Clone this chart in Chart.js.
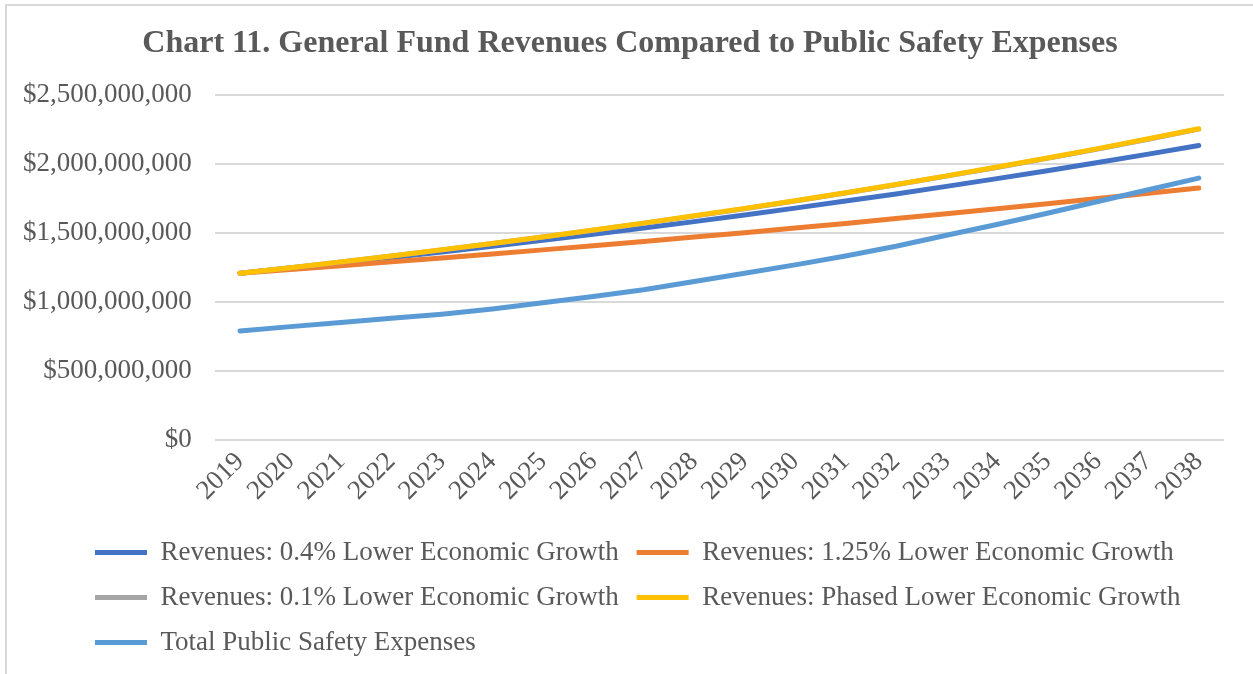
<!DOCTYPE html>
<html>
<head>
<meta charset="utf-8">
<title>Chart 11</title>
<script src="https://cdn.jsdelivr.net/npm/chart.js@4.4.1/dist/chart.umd.min.js"></script>
<style>
  body { margin: 0; background: #fff; overflow: hidden; }
  #wrap { position: absolute; left: 0; top: 0; width: 1253px; height: 674px; }
  #frame { position: absolute; left: 5px; top: 4px; width: 1270px; height: 690px; border: 2px solid #d9d9d9; pointer-events: none; }
</style>
</head>
<body>
<div id="wrap"><canvas id="myChart" width="1253" height="674"></canvas></div>
<div id="frame"></div>
<script>
// values in millions of dollars
const years = ['2019','2020','2021','2022','2023','2024','2025','2026','2027','2028',
               '2029','2030','2031','2032','2033','2034','2035','2036','2037','2038'];

const rev04 = [1210, 1247, 1285, 1324, 1364, 1405, 1448, 1492, 1537, 1584,
               1632, 1682, 1733, 1785, 1840, 1896, 1953, 2013, 2074, 2137];
const rev125 = [1210, 1237, 1264, 1292, 1320, 1349, 1379, 1409, 1440, 1472,
                1504, 1537, 1571, 1606, 1641, 1677, 1714, 1752, 1790, 1828];
const rev01 = [1210, 1250, 1291, 1334, 1379, 1425, 1472, 1521, 1572, 1624,
               1678, 1734, 1792, 1852, 1914, 1977, 2043, 2111, 2182, 2255];
const revPhased = [1210, 1250, 1292, 1335, 1380, 1426, 1473, 1523, 1573, 1626,
                   1680, 1736, 1794, 1854, 1916, 1980, 2046, 2114, 2185, 2258];
const safetyExp = [791, 822, 852, 882, 912, 950, 995, 1040, 1090, 1150,
                   1210, 1270, 1335, 1405, 1485, 1563, 1645, 1730, 1815, 1900];

const seriesNames = [
    'Revenues: 0.4% Lower Economic Growth',
    'Revenues: 1.25% Lower Economic Growth',
    'Revenues: 0.1% Lower Economic Growth',
    'Revenues: Phased Lower Economic Growth',
    'Total Public Safety Expenses'
];
const seriesColors = ['#4472C4', '#ED7D31', '#A5A5A5', '#FFC000', '#5B9BD5'];
const seriesData = [rev04, rev125, rev01, revPhased, safetyExp];

const serif = "'Times New Roman', 'Liberation Serif', serif";
const grey = '#595959';

function makeDataset(i) {
    return {
        label: seriesNames[i],
        data: seriesData[i],
        borderColor: seriesColors[i],
        backgroundColor: seriesColors[i],
        borderWidth: 5,
        borderCapStyle: 'round',
        borderJoinStyle: 'round',
        pointRadius: 0,
        tension: 0,
        fill: false,
        // excel draws the later series on top
        order: seriesNames.length - i
    };
}

// nudge title and legend rows horizontally like the original
const blockShift = {
    id: 'blockShift',
    beforeDraw(chart) {
        chart.titleBlock.left = 36;
        chart.legend.left = 77;
    }
};

const config = {
    type: 'line',
    data: {
        labels: years,
        datasets: seriesNames.map((n, i) => makeDataset(i))
    },
    options: {
        responsive: false,
        animation: false,
        layout: { padding: { left: 0, right: 29, top: 0, bottom: 8 } },
        plugins: {
            title: {
                display: true,
                text: 'Chart 11. General Fund Revenues Compared to Public Safety Expenses',
                color: grey,
                font: { family: serif, size: 32, weight: 'bold' },
                padding: { top: 25, bottom: 32 }
            },
            legend: {
                position: 'bottom',
                align: 'start',
                labels: {
                    color: grey,
                    font: { family: serif, size: 27 },
                    usePointStyle: true,
                    pointStyle: 'line',
                    pointStyleWidth: 52,
                    padding: 18,
                    sort: (a, b) => a.datasetIndex - b.datasetIndex
                }
            },
            tooltip: { enabled: false }
        },
        scales: {
            x: {
                offset: true,
                grid: { display: false, drawTicks: false },
                border: { display: false },
                ticks: {
                    color: grey,
                    font: { family: serif, size: 27 },
                    maxRotation: 45,
                    minRotation: 45,
                    autoSkip: false,
                    padding: 6
                },
                afterFit(scale) {
                    scale.height += 8;
                }
            },
            y: {
                min: 0,
                max: 2500,
                grid: { color: '#d9d9d9', lineWidth: 2, drawTicks: false },
                border: { display: false },
                ticks: {
                    stepSize: 500,
                    color: grey,
                    font: { family: serif, size: 27 },
                    padding: 23,
                    callback: v => '$' + (v * 1000000).toLocaleString('en-US')
                }
            }
        }
    },
    plugins: [blockShift]
};

const myChart = new Chart(document.getElementById('myChart'), config);
</script>
</body>
</html>
